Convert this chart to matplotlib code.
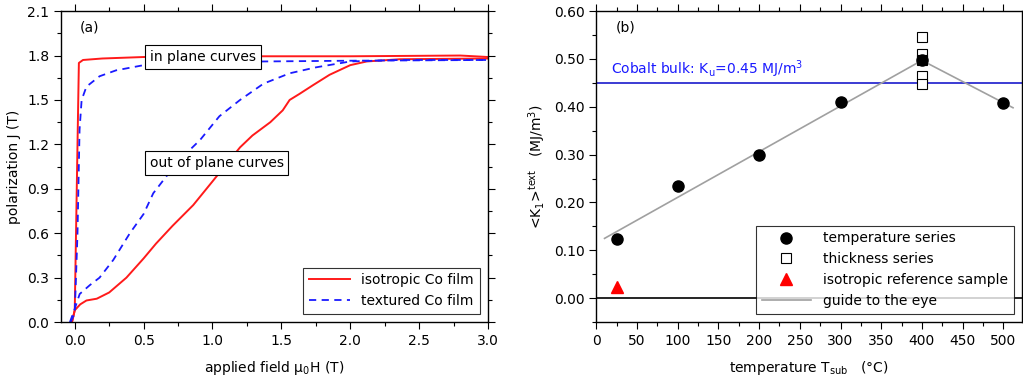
import matplotlib
matplotlib.use("Agg")
import matplotlib.pyplot as plt
from matplotlib.ticker import MultipleLocator, FormatStrFormatter

plt.rcParams['font.family'] = ['DejaVu Sans']
plt.rcParams['font.size'] = 10

# ---------- panel (a) data ----------
iso_in_x = [-0.02, 0.0, 0.02, 0.03, 0.06, 0.2, 0.5, 1.0, 2.0, 2.8, 3.0]
iso_in_y = [0.0, 0.08, 1.2, 1.75, 1.77, 1.78, 1.79, 1.795, 1.795, 1.80, 1.79]
tex_in_x = [-0.03, 0.0, 0.02, 0.035, 0.05, 0.085, 0.18, 0.3, 0.5, 0.9, 1.37, 2.0, 3.0]
tex_in_y = [0.0, 0.06, 0.6, 1.3, 1.5, 1.59, 1.66, 1.70, 1.735, 1.755, 1.76, 1.765, 1.77]
iso_out_x = [-0.02, 0.0, 0.04, 0.085, 0.16, 0.25, 0.375, 0.5, 0.59, 0.71, 0.86, 1.0, 1.2, 1.29,
             1.42, 1.51, 1.56, 1.63, 1.73, 1.85, 2.0, 2.12, 2.36, 3.0]
iso_out_y = [0.0, 0.08, 0.12, 0.146, 0.158, 0.20, 0.30, 0.43, 0.53, 0.65, 0.79, 0.95, 1.18, 1.26,
             1.35, 1.43, 1.50, 1.54, 1.60, 1.67, 1.735, 1.76, 1.775, 1.78]
tex_out_x = [-0.035, 0.0, 0.036, 0.11, 0.18, 0.28, 0.4, 0.5, 0.57, 0.67, 0.81, 0.91, 1.05, 1.2,
             1.37, 1.56, 1.75, 2.0, 2.36, 3.0]
tex_out_y = [0.0, 0.09, 0.19, 0.25, 0.30, 0.42, 0.60, 0.73, 0.87, 0.99, 1.14, 1.23, 1.39, 1.50,
             1.61, 1.68, 1.72, 1.76, 1.77, 1.77]

# ---------- panel (b) data ----------
temp_T = [25, 100, 200, 300, 400, 500]
temp_K = [0.123, 0.234, 0.299, 0.41, 0.497, 0.407]
thick_T = [400, 400, 400, 400, 400]
thick_K = [0.545, 0.510, 0.497, 0.465, 0.448]
iso_T = [25]
iso_K = [0.023]
guide_T = [10, 400, 512]
guide_K = [0.125, 0.497, 0.398]
cobalt_bulk = 0.45

fig = plt.figure(figsize=(10.23, 3.83), dpi=100)
ax1 = fig.add_axes([0.0596, 0.159, 0.4174, 0.812])
ax2 = fig.add_axes([0.583, 0.159, 0.416, 0.812])

def style(ax):
    ax.tick_params(which='both', direction='out', top=True, right=True, labeltop=False, labelright=False)
    ax.tick_params(which='major', length=5, width=0.8)
    ax.tick_params(which='minor', length=3, width=0.8)
    for s in ax.spines.values():
        s.set_linewidth(1.0)

# ----- panel (a) -----
ax1.plot(iso_in_x, iso_in_y, color='#ff1a1a', lw=1.4, label='isotropic Co film')
ax1.plot(iso_out_x, iso_out_y, color='#ff1a1a', lw=1.4)
ax1.plot(tex_in_x, tex_in_y, color='#1a1aff', lw=1.3, ls=(0, (4, 3)), label='textured Co film')
ax1.plot(tex_out_x, tex_out_y, color='#1a1aff', lw=1.3, ls=(0, (4, 3)))
ax1.set_xlim(-0.1, 3.0)
ax1.set_ylim(0, 2.1)
ax1.xaxis.set_major_locator(MultipleLocator(0.5))
ax1.xaxis.set_minor_locator(MultipleLocator(0.25))
ax1.yaxis.set_major_locator(MultipleLocator(0.3))
ax1.yaxis.set_minor_locator(MultipleLocator(0.15))
ax1.xaxis.set_major_formatter(FormatStrFormatter('%.1f'))
ax1.yaxis.set_major_formatter(FormatStrFormatter('%.1f'))
style(ax1)
ax1.set_xlabel(r'applied field $\mathregular{\mu_0}$H (T)', labelpad=8)
ax1.set_ylabel('polarization J (T)')
ax1.text(0.045, 0.97, '(a)', transform=ax1.transAxes, ha='left', va='top')
bbox = dict(boxstyle='square,pad=0.35', fc='white', ec='black', lw=0.8)
ax1.text(0.93, 1.79, 'in plane curves', ha='center', va='center', bbox=bbox)
ax1.text(1.03, 1.075, 'out of plane curves', ha='center', va='center', bbox=bbox)
leg1 = ax1.legend(loc='lower right', frameon=True, fancybox=False, edgecolor='black',
                  borderaxespad=0.6, handlelength=3.0)
leg1.get_frame().set_linewidth(0.8)

# ----- panel (b) -----
ax2.axhline(cobalt_bulk, color='#1a1acc', lw=1.2, zorder=1)
ax2.axhline(0, color='black', lw=1.2, zorder=1)
ax2.plot(guide_T, guide_K, color='#a0a0a0', lw=1.2, label='guide to the eye', zorder=2)
ax2.plot(thick_T, thick_K, ls='none', marker='s', ms=6.5, mfc='white', mec='black', mew=0.8,
         label='thickness series', zorder=3)
ax2.plot(temp_T, temp_K, ls='none', marker='o', ms=8, color='black', label='temperature series', zorder=4)
ax2.plot(iso_T, iso_K, ls='none', marker='^', ms=8, color='#ff0000',
         label='isotropic reference sample', zorder=4)
ax2.set_xlim(0, 523)
ax2.set_ylim(-0.05, 0.60)
ax2.xaxis.set_major_locator(MultipleLocator(50))
ax2.xaxis.set_minor_locator(MultipleLocator(25))
ax2.yaxis.set_major_locator(MultipleLocator(0.1))
ax2.yaxis.set_minor_locator(MultipleLocator(0.05))
ax2.yaxis.set_major_formatter(FormatStrFormatter('%.2f'))
style(ax2)
ax2.set_xlabel(r'temperature T$\mathregular{_{sub}}$   (°C)', labelpad=8)
ax2.set_ylabel(r'<K$\mathregular{_1}$>$\mathregular{^{text}}$   (MJ/m$\mathregular{^3}$)')
ax2.text(0.045, 0.97, '(b)', transform=ax2.transAxes, ha='left', va='top')
ax2.text(18, 0.478, r'Cobalt bulk: K$\mathregular{_u}$=0.45 MJ/m$\mathregular{^3}$', color='#1a1aff',
         ha='left', va='center')
handles, labels = ax2.get_legend_handles_labels()
order = [labels.index(l) for l in ['temperature series', 'thickness series',
                                   'isotropic reference sample', 'guide to the eye']]
leg2 = ax2.legend([handles[i] for i in order], [labels[i] for i in order], loc='lower right',
                  frameon=True, fancybox=False, edgecolor='black', borderaxespad=0.6,
                  handlelength=3.5, handletextpad=0.9, bbox_to_anchor=(1.0, 0.0))
leg2.get_frame().set_linewidth(0.8)

fig.savefig('out.png', dpi=100)
